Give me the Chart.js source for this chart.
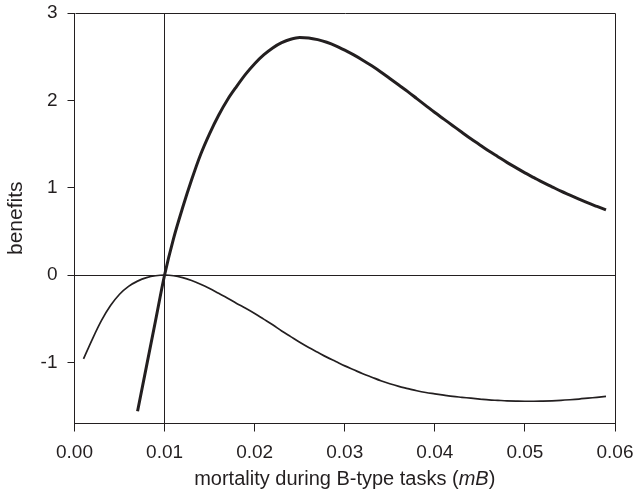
<!DOCTYPE html>
<html>
<head>
<meta charset="utf-8">
<script src="https://cdn.jsdelivr.net/npm/chart.js@4/dist/chart.umd.min.js"></script>
<style>
  html, body { margin: 0; padding: 0; background: #fff; }
  #wrap { width: 637px; height: 498px; }
</style>
</head>
<body>
<div id="wrap"><canvas id="c" width="637" height="498"></canvas></div>
<script>
// ---- data ----
const thickX = [0.007, 0.008, 0.009, 0.010, 0.011, 0.012, 0.013, 0.014, 0.015, 0.016, 0.017, 0.018, 0.019, 0.020,
                0.021, 0.022, 0.023, 0.024, 0.025, 0.026, 0.027, 0.028, 0.029, 0.030, 0.031, 0.032, 0.033, 0.034,
                0.035, 0.036, 0.037, 0.038, 0.039, 0.040, 0.041, 0.042, 0.043, 0.044, 0.045, 0.046, 0.047, 0.048,
                0.049, 0.050, 0.051, 0.052, 0.053, 0.054, 0.055, 0.056, 0.057, 0.058, 0.059];
const thickY = [-1.56, -1.04, -0.52, 0.00, 0.42, 0.77, 1.09, 1.38, 1.62, 1.83, 2.01, 2.16, 2.30, 2.42,
                2.52, 2.60, 2.66, 2.70, 2.72, 2.715, 2.695, 2.665, 2.625, 2.575, 2.52, 2.46, 2.395, 2.325,
                2.25, 2.175, 2.10, 2.02, 1.94, 1.86, 1.785, 1.71, 1.635, 1.56, 1.49, 1.42, 1.355, 1.29,
                1.23, 1.17, 1.115, 1.06, 1.01, 0.96, 0.915, 0.87, 0.825, 0.785, 0.745];

const thinX = [0.001, 0.002, 0.003, 0.004, 0.005, 0.006, 0.007, 0.008, 0.009, 0.010, 0.011, 0.012, 0.013, 0.014,
               0.015, 0.016, 0.017, 0.018, 0.019, 0.020, 0.021, 0.022, 0.023, 0.024, 0.025, 0.026, 0.027, 0.028,
               0.029, 0.030, 0.031, 0.032, 0.033, 0.034, 0.035, 0.036, 0.037, 0.038, 0.039, 0.040, 0.041, 0.042,
               0.043, 0.044, 0.045, 0.046, 0.047, 0.048, 0.049, 0.050, 0.051, 0.052, 0.053, 0.054, 0.055, 0.056,
               0.057, 0.058, 0.059];
const thinY = [-0.96, -0.73, -0.52, -0.35, -0.22, -0.13, -0.07, -0.03, -0.008, 0.00, -0.008, -0.03, -0.063, -0.105,
               -0.155, -0.21, -0.265, -0.325, -0.38, -0.44, -0.505, -0.57, -0.64, -0.705, -0.77, -0.83, -0.885, -0.94,
               -0.99, -1.04, -1.085, -1.13, -1.17, -1.21, -1.245, -1.275, -1.30, -1.325, -1.345, -1.36, -1.375, -1.39,
               -1.40, -1.41, -1.42, -1.43, -1.435, -1.44, -1.443, -1.445, -1.445, -1.443, -1.44, -1.435, -1.428, -1.42,
               -1.41, -1.40, -1.39];

const xTicks = [0.00, 0.01, 0.02, 0.03, 0.04, 0.05, 0.06];
const yTicks = [-1, 0, 1, 2, 3];
const xRefLine = 0.01;   // vertical reference line
const yRefLine = 0;      // horizontal reference line
const xRange = [0, 0.06];
const yRange = [-1.7, 3];
const xTitleMain = 'mortality during B-type tasks (';
const xTitleItalic = 'mB';
const xTitleEnd = ')';
const yTitle = 'benefits';

const FONT = '"Liberation Sans", Arial, Helvetica, sans-serif';
const INK = '#231f20';

const toPts = (xs, ys) => xs.map((x, i) => ({ x: x, y: ys[i] }));

const frame = {
  id: 'frame',
  afterDraw(chart) {
    const { ctx, chartArea: a } = chart;
    ctx.save();
    ctx.strokeStyle = INK;
    ctx.lineWidth = 1;
    const l = Math.round(a.left) + 0.5, r = Math.round(a.right) + 0.5;
    const t = Math.round(a.top) + 0.5, b = Math.round(a.bottom) + 0.5;
    ctx.beginPath();
    ctx.moveTo(l, t); ctx.lineTo(r, t); ctx.lineTo(r, b);
    ctx.stroke();

    ctx.fillStyle = INK;
    ctx.textBaseline = 'middle';
    const normal = '20px ' + FONT;
    const italic = 'italic 20px ' + FONT;
    ctx.font = normal;
    const w1 = ctx.measureText(xTitleMain).width;
    const w3 = ctx.measureText(xTitleEnd).width;
    ctx.font = italic;
    const w2 = ctx.measureText(xTitleItalic).width;
    const total = w1 + w2 + w3;
    let x = (a.left + a.right) / 2 - total / 2;
    const y = 479;
    ctx.textAlign = 'left';
    ctx.font = normal; ctx.fillText(xTitleMain, x, y); x += w1;
    ctx.font = italic; ctx.fillText(xTitleItalic, x, y); x += w2;
    ctx.font = normal; ctx.fillText(xTitleEnd, x, y);
    ctx.restore();
  }
};

const near = (a, b) => Math.abs(a - b) < 1e-9;

new Chart(document.getElementById('c'), {
  type: 'line',
  data: {
    datasets: [
      { data: toPts(thickX, thickY), borderColor: INK, borderWidth: 3, pointRadius: 0, cubicInterpolationMode: 'monotone', fill: false },
      { data: toPts(thinX, thinY), borderColor: INK, borderWidth: 1.7, pointRadius: 0, cubicInterpolationMode: 'monotone', fill: false }
    ]
  },
  options: {
    responsive: false,
    animation: false,
    devicePixelRatio: 1,
    layout: { padding: { left: 0, top: 13, right: 22, bottom: 0 } },
    plugins: { legend: { display: false }, tooltip: { enabled: false } },
    scales: {
      x: {
        type: 'linear',
        min: xRange[0], max: xRange[1],
        afterBuildTicks: s => { s.ticks = xTicks.map(v => ({ value: v })); },
        afterFit: s => { s.height = 74.5; s.paddingLeft = 0; s.paddingRight = 0; },
        border: { display: true, color: INK, width: 1 },
        grid: {
          drawOnChartArea: true,
          color: c => (c.tick && near(c.tick.value, xRefLine)) ? INK : 'rgba(0,0,0,0)',
          tickColor: INK,
          tickLength: 8,
          lineWidth: 1
        },
        ticks: {
          color: INK,
          font: { family: FONT, size: 19 },
          padding: 10,
          maxRotation: 0,
          autoSkip: false,
          callback: v => Number(v).toFixed(2)
        },
        title: { display: false }
      },
      y: {
        type: 'linear',
        min: yRange[0], max: yRange[1],
        afterBuildTicks: s => { s.ticks = yTicks.map(v => ({ value: v })); },
        afterFit: s => { s.width = 74.5; s.paddingTop = 0; s.paddingBottom = 0; },
        border: { display: true, color: INK, width: 1 },
        grid: {
          drawOnChartArea: true,
          color: c => (c.tick && near(c.tick.value, yRefLine)) ? INK : 'rgba(0,0,0,0)',
          tickColor: INK,
          tickLength: 7,
          lineWidth: 1
        },
        ticks: {
          color: INK,
          font: { family: FONT, size: 19 },
          padding: 10,
          autoSkip: false,
          callback: v => String(v)
        },
        title: {
          display: true,
          text: yTitle,
          color: INK,
          font: { family: FONT, size: 21 },
          padding: { top: 4, bottom: 0 }
        }
      }
    }
  },
  plugins: [frame]
});
</script>
</body>
</html>
